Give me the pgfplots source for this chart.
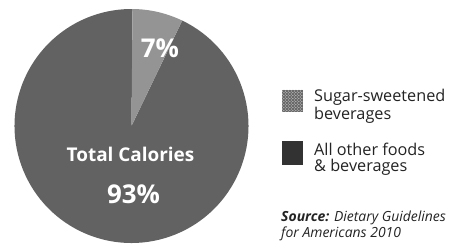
\documentclass[border=0pt]{standalone}
\usepackage{fontspec}
\setmainfont{Open Sans}
\usepackage{pgfplots}
\usepackage{pgfplotstable}
\pgfplotsset{compat=1.18}
\usetikzlibrary{patterns}
\definecolor{bigc}{RGB}{98,98,98}
\definecolor{smallc}{RGB}{148,148,148}
\definecolor{darksw}{RGB}{50,50,50}
\definecolor{txt}{RGB}{35,35,35}
\pgfplotstableread{
label value
sugar 7
other 93
}\piedata
\pgfplotstablegetelem{0}{value}\of\piedata
\let\vA\pgfplotsretval
\pgfmathsetmacro\startang{89.5}
\pgfmathsetmacro\angA{\startang-3.6*\vA}
\pgfmathsetmacro\angEnd{\startang-360}
\begin{document}
\begin{tikzpicture}
\useasboundingbox (0,0) rectangle (456bp,245bp);
\begin{axis}[at={(0,0)}, anchor=south west, x=1bp, y=1bp,
  xmin=0, xmax=456, ymin=0, ymax=245, hide axis, scale only axis]
\addplot[draw=none] coordinates {(0,0)};
% pie
\fill[bigc] (axis cs:131.5,119) -- ++(\angA:117bp) arc[start angle=\angA, end angle=\angEnd, radius=117bp] -- cycle;
\fill[smallc] (axis cs:131.5,119) -- ++(\startang:117bp) arc[start angle=\startang, end angle=\angA, radius=117bp] -- cycle;
\node[white, anchor=base, font=\fontsize{26}{26}\selectfont\bfseries] at (axis cs:160,188) {7\%};
\node[white, anchor=base, font=\fontsize{19}{19}\selectfont\bfseries] at (axis cs:130.5,84) {Total Calories};
\node[white, anchor=base, font=\fontsize{26}{26}\selectfont\bfseries] at (axis cs:133.5,42) {93\%};
% legend
\fill[smallc!70!black] (axis cs:282,133) rectangle (axis cs:303,155);
\fill[pattern=crosshatch dots, pattern color=white!85!gray] (axis cs:282,133) rectangle (axis cs:303,155);
\fill[darksw] (axis cs:282,80) rectangle (axis cs:303,104);
\node[txt, anchor=base west, inner sep=0pt, font=\fontsize{16.3}{16}\selectfont] at (axis cs:314,144) {Sugar-sweetened};
\node[txt, anchor=base west, inner sep=0pt, font=\fontsize{16.3}{16}\selectfont] at (axis cs:314,126) {beverages};
\node[txt, anchor=base west, inner sep=0pt, font=\fontsize{16.3}{16}\selectfont] at (axis cs:314,90) {All other foods};
\node[txt, anchor=base west, inner sep=0pt, font=\fontsize{16.3}{16}\selectfont] at (axis cs:314,74) {\&\ beverages};
\node[txt, anchor=base west, inner sep=0pt, font=\fontsize{14}{14}\selectfont\itshape] at (axis cs:281,24) {\textbf{Source:} Dietary Guidelines};
\node[txt, anchor=base west, inner sep=0pt, font=\fontsize{14}{14}\selectfont\itshape] at (axis cs:281,8) {for Americans 2010};
\end{axis}
\end{tikzpicture}
\end{document}
